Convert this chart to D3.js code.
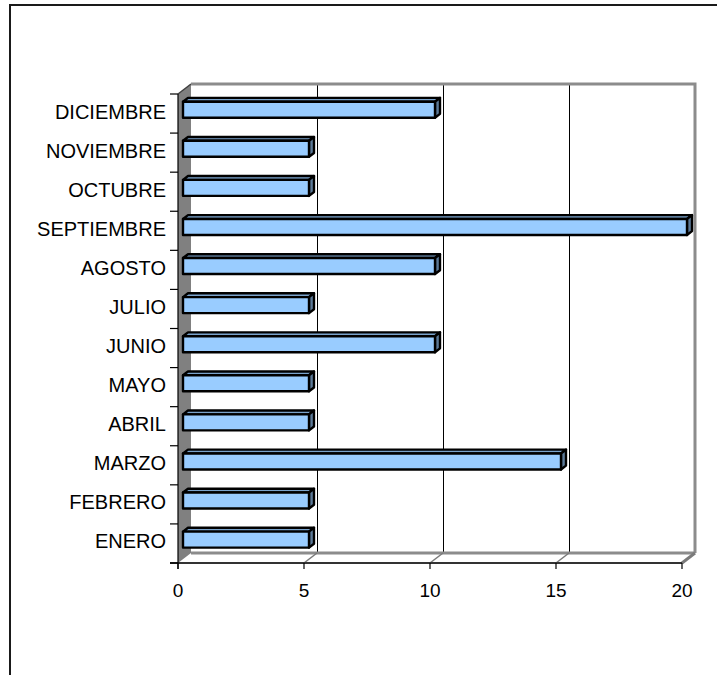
<!DOCTYPE html>
<html>
<head>
<meta charset="utf-8">
<script src="https://cdn.jsdelivr.net/npm/d3@7"></script>
<style>
  html, body { margin: 0; padding: 0; background: #fff; }
  svg { display: block; }
  text { font-family: "Liberation Sans", Arial, sans-serif; fill: #000; }
</style>
</head>
<body>
<svg id="chart" width="717" height="675"></svg>
<script>
// Months, bottom to top as they appear on the axis
const months = ["ENERO", "FEBRERO", "MARZO", "ABRIL", "MAYO", "JUNIO",
                "JULIO", "AGOSTO", "SEPTIEMBRE", "OCTUBRE", "NOVIEMBRE", "DICIEMBRE"];
const values = [5, 5, 15, 5, 5, 10, 5, 10, 20, 5, 5, 10];
const tickValues = [0, 5, 10, 15, 20];

const svg = d3.select("#chart");

// Front plane of the 3D plot and the depth offset to the back wall
const plotLeft = 178, plotRight = 682, plotTop = 94, plotBottom = 563;
const depthX = 13, depthY = -10;

const x = d3.scaleLinear().domain([0, 20]).range([plotLeft, plotRight]);
const y = d3.scaleBand().domain(months).range([plotBottom, plotTop]);

// Outer chart frame
svg.append("path")
  .attr("d", "M10,675 V5 H717")
  .attr("fill", "none").attr("stroke", "#1a1a1a").attr("stroke-width", 2);

// Left side wall
svg.append("path")
  .attr("d", `M${plotLeft},${plotTop} L${plotLeft + depthX},${plotTop + depthY} L${plotLeft + depthX},${plotBottom + depthY} L${plotLeft},${plotBottom} Z`)
  .attr("fill", "#808080").attr("stroke", "none");
svg.append("line")
  .attr("x1", plotLeft).attr("y1", plotTop).attr("x2", plotLeft + depthX).attr("y2", plotTop + depthY)
  .attr("stroke", "#404040").attr("stroke-width", 1.5);

// Gridlines on the back wall
const g = svg.append("g");
tickValues.filter(v => v > 0 && v < 20).forEach(v => {
  g.append("line")
    .attr("x1", x(v) + depthX + 0.5).attr("x2", x(v) + depthX + 0.5)
    .attr("y1", plotTop + depthY).attr("y2", plotBottom + depthY)
    .attr("stroke", "#000").attr("stroke-width", 1);
});

// Back wall top and right edges
svg.append("path")
  .attr("d", `M${plotLeft + depthX},${plotTop + depthY} H${plotRight + depthX} V${plotBottom + depthY}`)
  .attr("fill", "none").attr("stroke", "#8c8c8c").attr("stroke-width", 3);

// Floor
svg.append("line")
  .attr("x1", plotLeft + depthX).attr("x2", plotRight + depthX)
  .attr("y1", plotBottom + depthY).attr("y2", plotBottom + depthY)
  .attr("stroke", "#8c8c8c").attr("stroke-width", 3);
tickValues.filter(v => v > 0).forEach(v => {
  svg.append("line")
    .attr("x1", x(v)).attr("y1", plotBottom)
    .attr("x2", x(v) + depthX).attr("y2", plotBottom + depthY)
    .attr("stroke", "#7a7a7a").attr("stroke-width", v === 20 ? 3 : 1.5);
});
svg.append("line")
  .attr("x1", plotLeft - 8).attr("x2", plotRight)
  .attr("y1", plotBottom).attr("y2", plotBottom)
  .attr("stroke", "#333").attr("stroke-width", 2);

// Vertical category axis with ticks at band boundaries
svg.append("line")
  .attr("x1", plotLeft).attr("x2", plotLeft).attr("y1", plotTop).attr("y2", plotBottom + 6)
  .attr("stroke", "#000").attr("stroke-width", 1.2);
const bounds = months.map(m => y(m)).concat([plotBottom]);
bounds.forEach(b => {
  svg.append("line")
    .attr("x1", plotLeft - 8).attr("x2", plotLeft).attr("y1", b).attr("y2", b)
    .attr("stroke", "#000").attr("stroke-width", 1.2);
});

// Value axis ticks and labels
tickValues.forEach(v => {
  svg.append("line")
    .attr("x1", x(v)).attr("x2", x(v)).attr("y1", plotBottom).attr("y2", plotBottom + 6)
    .attr("stroke", "#000").attr("stroke-width", 1.2);
  svg.append("text")
    .attr("x", x(v)).attr("y", 597)
    .attr("text-anchor", "middle").attr("font-size", 19)
    .text(v);
});

// Category labels
months.forEach(m => {
  svg.append("text")
    .attr("x", 166).attr("y", y(m) + y.bandwidth() / 2 + 5)
    .attr("text-anchor", "end").attr("font-size", 20)
    .text(m);
});

// 3D bars: front face, top face and end face
const f1 = 5 / 13, f2 = 10 / 13;   // bar depth span as fraction of plot depth
const barH = 16;
const bars = svg.append("g");
months.forEach((m, i) => {
  const v = values[i];
  const cy = y(m) + y.bandwidth() / 2;
  const ox = depthX * f1, oy = depthY * f1;
  const dx = depthX * (f2 - f1), dy = depthY * (f2 - f1);
  const x0 = x(0) + ox, x1 = x(v) + ox;
  const y0 = cy + oy - barH / 2, y1 = cy + oy + barH / 2;
  const bg = bars.append("g").attr("stroke", "#000").attr("stroke-width", 2.4).attr("stroke-linejoin", "round");
  bg.append("path")
    .attr("d", `M${x0},${y0} L${x0 + dx},${y0 + dy} L${x1 + dx},${y0 + dy} L${x1},${y0} Z`)
    .attr("fill", "#7aa3cc");
  bg.append("path")
    .attr("d", `M${x1},${y0} L${x1 + dx},${y0 + dy} L${x1 + dx},${y1 + dy} L${x1},${y1} Z`)
    .attr("fill", "#5c7a99");
  bg.append("rect")
    .attr("x", x0).attr("y", y0).attr("width", x1 - x0).attr("height", barH)
    .attr("fill", "#99ccff");
});
</script>
</body>
</html>
